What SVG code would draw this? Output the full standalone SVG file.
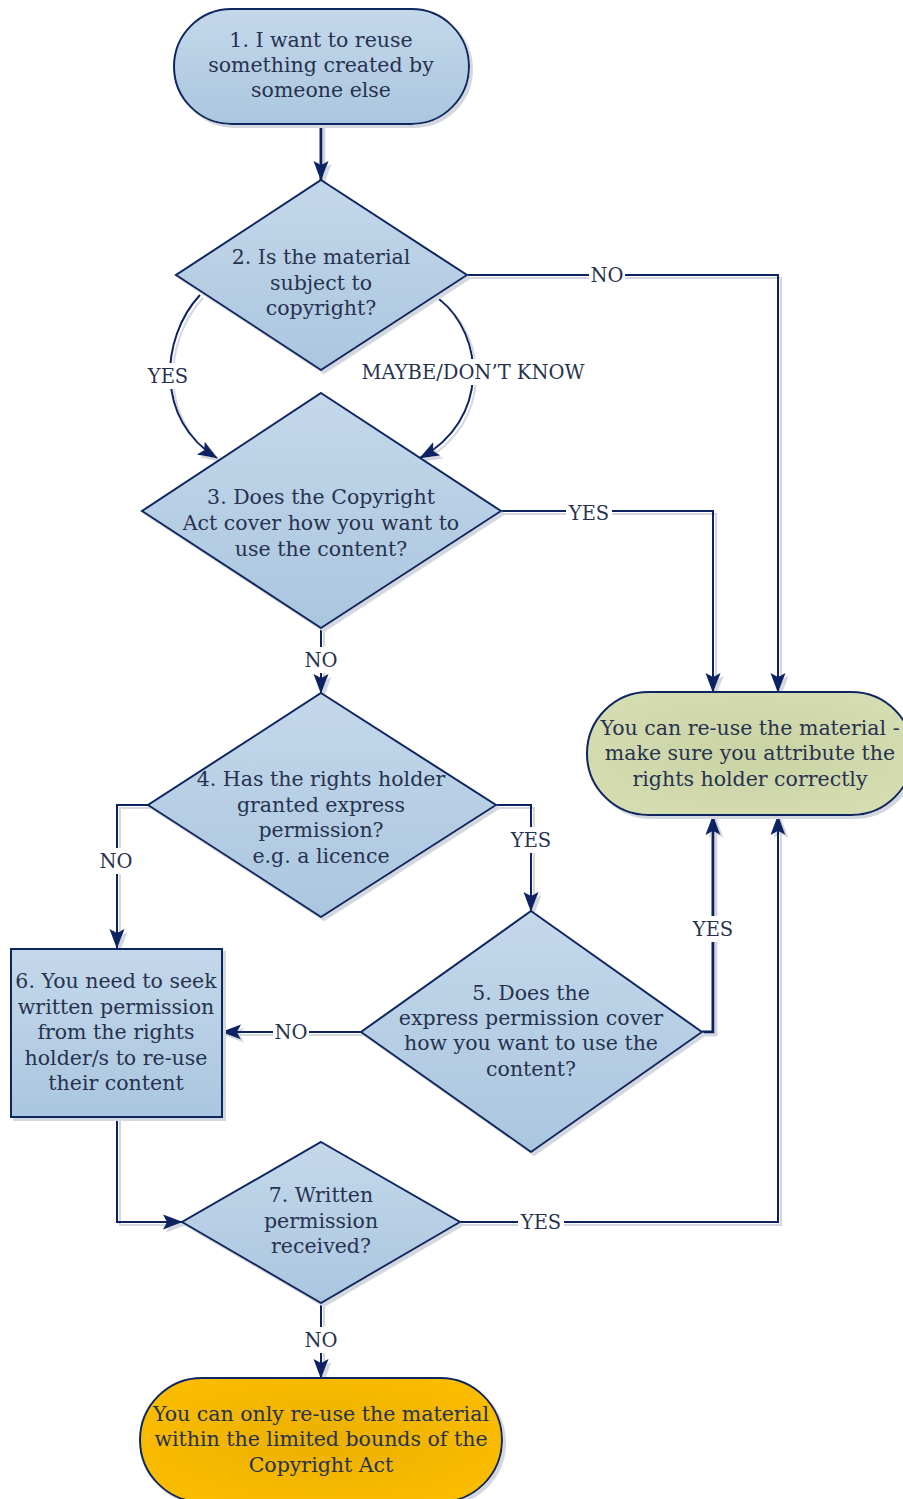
<svg xmlns="http://www.w3.org/2000/svg" width="903" height="1499" viewBox="0 0 903 1499">
<defs>
<linearGradient id="blue" x1="0" y1="0" x2="0" y2="1">
<stop offset="0" stop-color="#C4D8EA"/>
<stop offset="1" stop-color="#AAC6DF"/>
</linearGradient>
<radialGradient id="green" cx="0.5" cy="0.5" r="0.6">
<stop offset="0" stop-color="#CAD3A3"/>
<stop offset="1" stop-color="#D5DDB2"/>
</radialGradient>
<radialGradient id="gold" cx="0.5" cy="0.5" r="0.6">
<stop offset="0" stop-color="#EBB000"/>
<stop offset="1" stop-color="#FBBD00"/>
</radialGradient>
<filter id="sh" filterUnits="userSpaceOnUse" x="0" y="0" width="903" height="1499">
<feOffset in="SourceAlpha" dx="3" dy="3" result="o"/>
<feFlood flood-color="#D3D7DF"/>
<feComposite in2="o" operator="in" result="s"/>
<feMerge><feMergeNode in="s"/><feMergeNode in="SourceGraphic"/></feMerge>
</filter>
<marker id="arr" markerUnits="userSpaceOnUse" markerWidth="20" markerHeight="18" viewBox="0 0 20 18" refX="19" refY="9" orient="auto">
<path d="M0,1.5 L20,9 L0,16.5 L4,9 Z" fill="#0B2463"/>
</marker>
<style>
.n{stroke:#0F2660;stroke-width:2;filter:url(#sh)}
.b{fill:url(#blue)}
.t{font-family:"DejaVu Serif","Liberation Serif",serif;font-size:20.5px;fill:#27324F;text-anchor:middle}
.c path{fill:none;stroke:#0B2463;stroke-width:2}
.c path.k{stroke-width:3}
.l{font-family:"DejaVu Serif","Liberation Serif",serif;font-size:19.5px;fill:#27324F;text-anchor:middle}
.bg{fill:#fff}
</style>
</defs>
<rect width="903" height="1499" fill="#fff"/>

<g id="connectors" class="c" filter="url(#sh)">
<path class="k" d="M321,124 V180" marker-end="url(#arr)"/>
<path d="M467,275 H778 V692" marker-end="url(#arr)"/>
<path d="M200,295 C160,338 155,420 217,458" marker-end="url(#arr)"/>
<path d="M439,299 C485,335 490,420 420,458" marker-end="url(#arr)"/>
<path d="M501,511 H713 V692" marker-end="url(#arr)"/>
<path d="M321,628 V693" marker-end="url(#arr)"/>
<path d="M148,805 H117 V948" marker-end="url(#arr)"/>
<path d="M496,805 H531 V911" marker-end="url(#arr)"/>
<path class="k" d="M702,1032 H713 V816" marker-end="url(#arr)"/>
<path d="M361,1032 H222" marker-end="url(#arr)"/>
<path d="M117,1117 V1222 H182" marker-end="url(#arr)"/>
<path d="M460,1222 H778 V816" marker-end="url(#arr)"/>
<path d="M321,1303 V1378" marker-end="url(#arr)"/>
</g>

<g id="labels">
<rect class="bg" x="589" y="262" width="36" height="26"/>
<text class="l" x="607" y="282">NO</text>
<rect class="bg" x="144" y="363" width="48" height="26"/>
<text class="l" x="168" y="383">YES</text>
<rect class="bg" x="358" y="359" width="232" height="26"/>
<text class="l" x="473" y="379">MAYBE/DON’T KNOW</text>
<rect class="bg" x="566" y="500" width="46" height="26"/>
<text class="l" x="589" y="520">YES</text>
<rect class="bg" x="303" y="647" width="36" height="26"/>
<text class="l" x="321" y="667">NO</text>
<rect class="bg" x="98" y="848" width="36" height="26"/>
<text class="l" x="116" y="868">NO</text>
<rect class="bg" x="508" y="827" width="46" height="26"/>
<text class="l" x="531" y="847">YES</text>
<rect class="bg" x="690" y="916" width="46" height="26"/>
<text class="l" x="713" y="936">YES</text>
<rect class="bg" x="273" y="1019" width="36" height="26"/>
<text class="l" x="291" y="1039">NO</text>
<rect class="bg" x="518" y="1209" width="46" height="26"/>
<text class="l" x="541" y="1229">YES</text>
<rect class="bg" x="303" y="1327" width="36" height="26"/>
<text class="l" x="321" y="1347">NO</text>
</g>

<g id="node1">
<rect class="n b" x="174" y="9" width="295" height="115" rx="57.5"/>
<text class="t" x="321" y="47">1. I want to reuse</text>
<text class="t" x="321" y="72">something created by</text>
<text class="t" x="321" y="97">someone else</text>
</g>

<g id="node2">
<polygon class="n b" points="321,180 467,275 321,370 176,275"/>
<text class="t" x="321" y="264">2. Is the material</text>
<text class="t" x="321" y="290">subject to</text>
<text class="t" x="321" y="315">copyright?</text>
</g>

<g id="node3">
<polygon class="n b" points="321,393 501,511 321,628 142,511"/>
<text class="t" x="321" y="504">3. Does the Copyright</text>
<text class="t" x="321" y="530">Act cover how you want to</text>
<text class="t" x="321" y="556">use the content?</text>
</g>

<g id="node4">
<polygon class="n b" points="321,693 496,805 321,917 148,805"/>
<text class="t" x="321" y="786">4. Has the rights holder</text>
<text class="t" x="321" y="812">granted express</text>
<text class="t" x="321" y="837">permission?</text>
<text class="t" x="321" y="863">e.g. a licence</text>
</g>

<g id="node5">
<polygon class="n b" points="531,911 702,1032 531,1152 361,1032"/>
<text class="t" x="531" y="1000">5. Does the</text>
<text class="t" x="531" y="1025">express permission cover</text>
<text class="t" x="531" y="1050">how you want to use the</text>
<text class="t" x="531" y="1076">content?</text>
</g>

<g id="node6">
<rect class="n b" x="11" y="949" width="211" height="168"/>
<text class="t" x="116" y="988">6. You need to seek</text>
<text class="t" x="116" y="1014">written permission</text>
<text class="t" x="116" y="1039">from the rights</text>
<text class="t" x="116" y="1065">holder/s to re-use</text>
<text class="t" x="116" y="1090">their content</text>
</g>

<g id="node7">
<polygon class="n b" points="321,1142 460,1222 321,1303 182,1222"/>
<text class="t" x="321" y="1202">7. Written</text>
<text class="t" x="321" y="1228">permission</text>
<text class="t" x="321" y="1253">received?</text>
</g>

<g id="reuse">
<rect class="n" fill="url(#green)" x="587" y="692" width="326" height="123" rx="61.5"/>
<text class="t" x="750" y="735">You can re-use the material -</text>
<text class="t" x="750" y="760">make sure you attribute the</text>
<text class="t" x="750" y="786">rights holder correctly</text>
</g>

<g id="limited">
<rect class="n" fill="url(#gold)" x="140" y="1378" width="362" height="124" rx="62"/>
<text class="t" x="321" y="1421">You can only re-use the material</text>
<text class="t" x="321" y="1446">within the limited bounds of the</text>
<text class="t" x="321" y="1472">Copyright Act</text>
</g>
</svg>
